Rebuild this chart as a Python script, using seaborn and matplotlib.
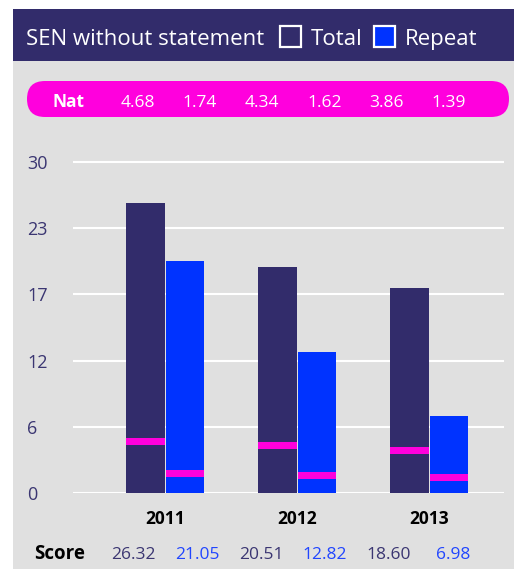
import matplotlib
matplotlib.use("Agg")
import matplotlib.pyplot as plt
from matplotlib.patches import Rectangle, FancyBboxPatch
import seaborn as sns
import pandas as pd

# ---- data ----
years = ["2011", "2012", "2013"]
series = ["Total", "Repeat"]
total_scores = [26.32, 20.51, 18.60]
repeat_scores = [21.05, 12.82, 6.98]
nat_total = [4.68, 4.34, 3.86]
nat_repeat = [1.74, 1.62, 1.39]
y_ticks = [0, 6, 12, 18, 24, 30]
y_tick_labels = ["0", "6", "12", "17", "23", "30"]
title_text = "SEN without statement"

# ---- style ----
DARK = "#322c6b"
BLUE = "#0033ff"
MAGENTA = "#ff00dd"
GRAY = "#e0e0e0"
TICKCOL = "#3b3672"
SCOREBLUE = "#2146ff"
FONT = ["Open Sans", "DejaVu Sans"]

sns.set_style("white")
plt.rcParams["font.family"] = FONT

W, H = 514, 569
fig = plt.figure(figsize=(W / 100, H / 100), dpi=100)
fig.patch.set_facecolor("white")

# background axes in pixel coordinates (y measured from top)
bg = fig.add_axes([0, 0, 1, 1], zorder=0)
bg.set_xlim(0, W)
bg.set_ylim(0, H)
bg.axis("off")

def py(y):
    return H - y

bg.add_patch(Rectangle((13, py(569)), W - 13, 569 - 9, color=GRAY, lw=0))
bg.add_patch(Rectangle((13, py(61)), W - 13, 52, color=DARK, lw=0))
bg.text(26, py(45), title_text, color="white", fontsize=16, va="baseline", ha="left")
bg.add_patch(Rectangle((280, py(47)), 21, 21, facecolor=DARK, edgecolor="white", lw=1.6))
bg.text(311, py(45), series[0], color="white", fontsize=16, va="baseline", ha="left")
bg.add_patch(Rectangle((374, py(47)), 21, 21, facecolor=BLUE, edgecolor="white", lw=1.6))
bg.text(405, py(45), series[1], color="white", fontsize=16, va="baseline", ha="left")

# Nat pill
bg.add_patch(FancyBboxPatch((27, py(117)), 482, 36,
                            boxstyle="round,pad=0,rounding_size=18",
                            facecolor=MAGENTA, edgecolor="none"))
bg.text(52, py(107), "Nat", color="white", fontsize=12.5, fontweight="bold",
        va="baseline", ha="left")
nat_seq = []
for t, r in zip(nat_total, nat_repeat):
    nat_seq += [t, r]
for i, v in enumerate(nat_seq):
    bg.text(138 + 62.1 * i, py(107), f"{v:.2f}", color="white", fontsize=12.5,
            va="baseline", ha="center")

# Score row
bg.text(34, py(559), "Score", color="black", fontsize=13.5, fontweight="bold",
        va="baseline", ha="left")
for i, (t, r) in enumerate(zip(total_scores, repeat_scores)):
    bg.text(133 + 128 * i, py(559), f"{t:.2f}", color=TICKCOL, fontsize=12.5,
            va="baseline", ha="center")
    bg.text(197 + 128 * i, py(559), f"{r:.2f}", color=SCOREBLUE, fontsize=12.5,
            va="baseline", ha="center")

# ---- main chart ----
ymax = 30.3
px_per_unit = (493 - 162) / 30
top_px = 493 - ymax * px_per_unit
ax = fig.add_axes([73 / W, (H - 493) / H, (504 - 73) / W, (493 - top_px) / H], zorder=1)
ax.set_facecolor("none")

df = pd.DataFrame({
    "year": years * 2,
    "series": [series[0]] * 3 + [series[1]] * 3,
    "value": total_scores + repeat_scores,
})
sns.barplot(data=df, x="year", y="value", hue="series", hue_order=series,
            palette=[DARK, BLUE], width=0.6, gap=0.025, saturation=1,
            legend=False, ax=ax, errorbar=None, zorder=2, linewidth=0,
            edgecolor="none")

# Nat markers on each bar
bars = sorted([p for p in ax.patches], key=lambda p: p.get_x())
for p, v in zip(bars, nat_seq):
    ax.bar(p.get_x() + p.get_width() / 2, 0.64, width=p.get_width(),
           bottom=v - 0.32, color=MAGENTA, linewidth=0, edgecolor="none", zorder=3)

ax.set_xlim(-0.697, 2.568)
ax.set_ylim(0, ymax)
ax.set_yticks(y_ticks)
ax.set_yticklabels(y_tick_labels)
ax.set_xlabel("")
ax.set_ylabel("")
for s in ax.spines.values():
    s.set_visible(False)
ax.set_axisbelow(True)
ax.grid(axis="y", color="white", lw=1.5, zorder=0)
ax.grid(axis="x", visible=False)
ax.tick_params(axis="y", length=0, pad=33, labelsize=13, labelcolor=TICKCOL)
for lab in ax.get_yticklabels():
    lab.set_horizontalalignment("left")
ax.tick_params(axis="x", length=0, pad=12, labelsize=12.5, labelcolor="black")
for lab in ax.get_xticklabels():
    lab.set_fontweight("bold")

fig.savefig("out.png", dpi=100)
